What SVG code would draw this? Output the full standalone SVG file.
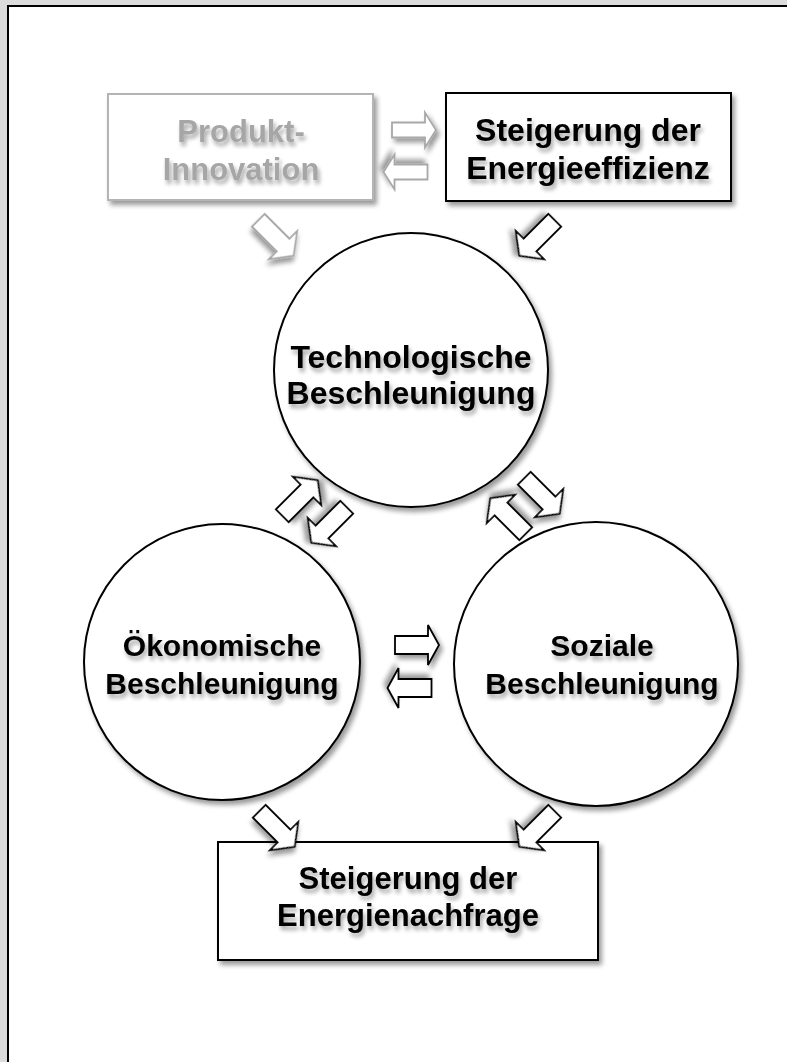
<svg xmlns="http://www.w3.org/2000/svg" width="787" height="1062" viewBox="0 0 787 1062">
  <defs>
    <filter id="sh" x="-20%" y="-20%" width="150%" height="150%">
      <feGaussianBlur in="SourceAlpha" stdDeviation="2.5"/>
      <feOffset dx="3" dy="4" result="b"/>
      <feComponentTransfer><feFuncA type="linear" slope="0.4"/></feComponentTransfer>
      <feMerge><feMergeNode/><feMergeNode in="SourceGraphic"/></feMerge>
    </filter>
    <filter id="tsh" x="-10%" y="-30%" width="130%" height="180%">
      <feGaussianBlur in="SourceAlpha" stdDeviation="2"/>
      <feOffset dx="2" dy="4" result="b"/>
      <feComponentTransfer><feFuncA type="linear" slope="0.35"/></feComponentTransfer>
      <feMerge><feMergeNode/><feMergeNode in="SourceGraphic"/></feMerge>
    </filter>
    <path id="aD" d="M -25,-9 L 10,-9 L 10,-20 L 25,0 L 10,20 L 10,9 L -25,9 Z"/>
    <path id="aT" d="M -22,-7.5 L 11,-7.5 L 11,-17.5 L 22,0 L 11,17.5 L 11,7.5 L -22,7.5 Z"/>
    <path id="aB" d="M -22,-9 L 11,-9 L 11,-20 L 22,0 L 11,20 L 11,9 L -22,9 Z"/>
  </defs>
  <style>
    .box { fill: #fff; stroke: #000; stroke-width: 2; filter: url(#sh); }
    .gbox { fill: #fff; stroke: #b4b4b4; stroke-width: 2; filter: url(#sh); }
    .t { font-family: "Liberation Sans", Arial, sans-serif; font-weight: bold; font-size: 32px; text-anchor: middle; fill: #000; filter: url(#tsh); }
    .s30 { font-size: 30px; }
    .s31 { font-size: 31px; }
    .gt { fill: #a6a6a6; }
    .arr { fill: #fff; stroke: #000; stroke-width: 1.8; stroke-linejoin: miter; filter: url(#sh); }
    .garr { fill: #fff; stroke: #a8a8a8; stroke-width: 1.8; filter: url(#sh); }
  </style>

  <rect x="0" y="0" width="787" height="1062" fill="#dcdcdc"/>
  <rect x="8" y="6" width="800" height="1080" fill="#fff" stroke="#000" stroke-width="2"/>

  <g id="produkt-innovation">
    <rect class="gbox" x="108" y="94" width="265" height="106"/>
    <text class="t s31 gt" x="241" y="142">Produkt-</text>
    <text class="t s31 gt" x="241" y="180">Innovation</text>
  </g>

  <g id="energieeffizienz">
    <rect class="box" x="446" y="93" width="285" height="108"/>
    <text class="t" x="588" y="141">Steigerung der</text>
    <text class="t" x="588" y="179">Energieeffizienz</text>
  </g>

  <g id="technologische">
    <circle class="box" cx="411" cy="370" r="137"/>
    <text class="t" x="411" y="368">Technologische</text>
    <text class="t" x="411" y="404">Beschleunigung</text>
  </g>

  <g id="oekonomische">
    <circle class="box" cx="222" cy="662" r="138"/>
    <text class="t s30" x="222" y="656">Ökonomische</text>
    <text class="t s30" x="222" y="694">Beschleunigung</text>
  </g>

  <g id="soziale">
    <circle class="box" cx="596" cy="664" r="142"/>
    <text class="t s30" x="602" y="656">Soziale</text>
    <text class="t s30" x="602" y="694">Beschleunigung</text>
  </g>

  <g id="energienachfrage">
    <rect class="box" x="218" y="842" width="380" height="118"/>
    <text class="t s31" x="408" y="889">Steigerung der</text>
    <text class="t s31" x="408" y="926">Energienachfrage</text>
  </g>

  <g id="connectors">
    <use href="#aT" class="garr" transform="translate(414,130)"/>
    <use href="#aT" class="garr" transform="translate(405.5,172) rotate(180)"/>
    <use href="#aD" class="garr" transform="translate(276,238) rotate(45)"/>
    <use href="#aD" class="arr" transform="translate(537,238) rotate(135)"/>
    <use href="#aD" class="arr" transform="translate(300,498) rotate(-45)"/>
    <use href="#aD" class="arr" transform="translate(329,525) rotate(135)"/>
    <use href="#aD" class="arr" transform="translate(508,516) rotate(-135)"/>
    <use href="#aD" class="arr" transform="translate(542,496) rotate(45)"/>
    <use href="#aB" class="arr" transform="translate(417,645)"/>
    <use href="#aB" class="arr" transform="translate(409.5,688) rotate(180)"/>
    <use href="#aD" class="arr" transform="translate(277,829) rotate(45)"/>
    <use href="#aD" class="arr" transform="translate(537,829) rotate(135)"/>
  </g>
</svg>
